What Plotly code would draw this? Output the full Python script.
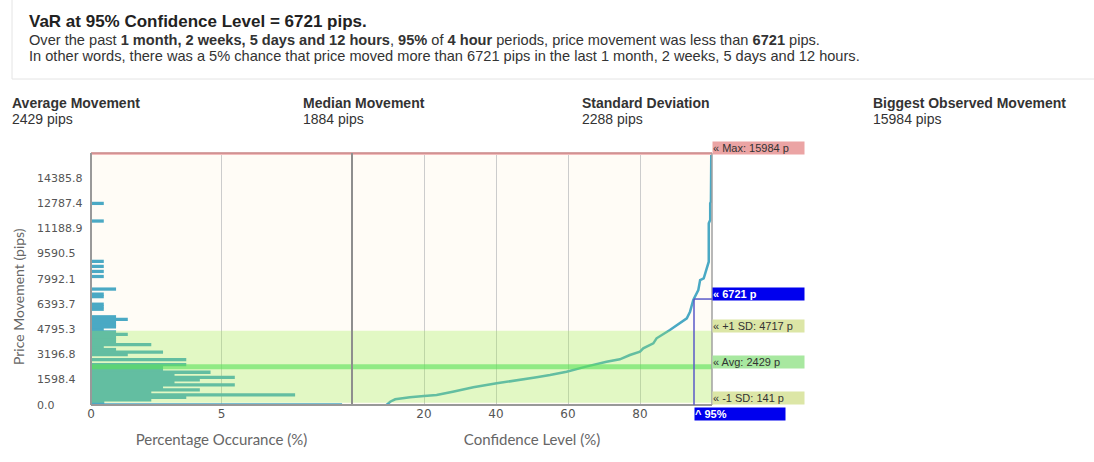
import plotly.graph_objects as go

# ---------------- data ----------------
var_level = 95
var_pips = 6721
avg_pips = 2429
median_pips = 1884
sd_pips = 2288
max_pips = 15984
plus_sd = 4717
minus_sd = 141
y_max = 15984.25

y_tick_vals = [0.0, 1598.4, 3196.8, 4795.3, 6393.7, 7992.1, 9590.5, 11188.9, 12787.4, 14385.8]
y_tick_text = ["0.0", "1598.4", "3196.8", "4795.3", "6393.7", "7992.1", "9590.5", "11188.9", "12787.4", "14385.8"]

# histogram: bin index (bin width = 159.84 pips) and percentage occurrence
BIN = 159.84
hist_bin = [0, 1, 2, 3, 4, 5, 6, 7, 8, 9, 10, 11, 12, 13, 14, 15, 16, 18, 20, 21,
            22, 23, 24, 25, 26, 27, 28, 29, 30, 31, 32, 33, 34, 35, 38, 39, 40, 43,
            44, 46, 51, 53, 55, 57, 73, 80]
hist_pct = [9.62, 0.51, 2.31, 3.65, 7.82, 2.31, 4.17, 2.76, 5.51, 3.2, 4.17, 5.51, 3.2, 4.58, 2.76, 2.76, 3.65, 3.65, 1.41, 2.76,
            0.96, 0.49, 2.31, 0.96, 0.96, 0.96, 1.41, 0.96, 0.49, 0.96, 0.96, 0.96, 1.41, 0.96, 0.49, 0.49, 0.49, 0.49,
            0.49, 0.96, 0.49, 0.49, 0.49, 0.49, 0.49, 0.49]

# cumulative curve: confidence level (%) vs movement (pips)
conf_level = [9.6, 10.6, 12, 14, 16.1, 20, 23.5, 28, 33.7, 40.2, 45, 51.3, 55, 59.6, 65, 70.7, 74.4,
              77.2, 80, 80.9, 83.7, 84.6, 88.3, 93, 93.9, 94.8, 96.2, 96.7, 97.7, 99.1, 99.1, 99.5,
              99.5, 99.7, 99.8, 100]
movement = [0, 209, 360, 440, 488, 571, 634, 845, 1122, 1376, 1522, 1757, 1903, 2113, 2432, 2747, 2899,
            3171, 3381, 3596, 3913, 4231, 4757, 5499, 5918, 6660, 7294, 7928, 8036, 9089, 11524, 11735,
            12792, 12898, 15984, 15984]

stats_labels = ["Average Movement", "Median Movement", "Standard Deviation", "Biggest Observed Movement"]
stats_values = [f"{avg_pips} pips", f"{median_pips} pips", f"{sd_pips} pips", f"{max_pips} pips"]

# ---------------- layout helpers ----------------
W, H = 1094, 462
L, R, T, B = 91, 712, 153, 405
def px2x(px):
    return (px - L) / (R - L)
def py2y(py):
    return (B - py) / (B - T)
split = px2x(352)

BAR_COLOR = "#4aa9c4"
FONT = "Liberation Sans, Arial, sans-serif"
TICKFONT = dict(family="DejaVu Sans, sans-serif", size=11, color="#555")

fig = go.Figure()
fig.add_trace(go.Bar(
    orientation="h",
    x=hist_pct,
    y=[b * BIN for b in hist_bin],
    width=BIN * 1.3,
    marker=dict(color=BAR_COLOR, line=dict(width=0)),
    xaxis="x", yaxis="y", hoverinfo="skip", showlegend=False,
))
fig.add_trace(go.Scatter(
    x=conf_level, y=movement, mode="lines",
    line=dict(color=BAR_COLOR, width=2.5),
    xaxis="x2", yaxis="y", hoverinfo="skip", showlegend=False,
))

axis_common = dict(showline=False, zeroline=False, showgrid=True, gridcolor="#cccccc", gridwidth=1,
                   ticks="", tickfont=dict(family="DejaVu Sans, sans-serif", size=12, color="#555"),
                   fixedrange=True)
title_font = dict(family="Lato, sans-serif", size=15, color="#666")
fig.update_layout(
    width=W, height=H,
    margin=dict(l=L, r=W - R, t=T, b=H - B, autoexpand=False),
    paper_bgcolor="white", plot_bgcolor="#fffcf6",
    showlegend=False,
    xaxis=dict(domain=[0, split], range=[0, 10], tickvals=[0, 5], ticktext=["0", "5"],
               title=dict(text="Percentage Occurance (%)", font=title_font, standoff=14), **axis_common),
    xaxis2=dict(domain=[split, 1], range=[0, 100], tickvals=[20, 40, 60, 80], anchor="y",
                title=dict(text="Confidence Level (%)", font=title_font, standoff=14), **axis_common),
    yaxis=dict(range=[0, y_max], showticklabels=False, showgrid=False, zeroline=False, showline=False,
               fixedrange=True),
)

shapes = []
# header box
shapes.append(dict(type="rect", xref="paper", yref="paper", x0=px2x(12), x1=px2x(1100),
                   y0=py2y(79), y1=py2y(-2), line=dict(color="#e4e4e4", width=1), fillcolor="rgba(0,0,0,0)",
                   layer="below"))
# +/- 1 SD band
shapes.append(dict(type="rect", xref="paper", yref="y", x0=0, x1=1, y0=minus_sd, y1=plus_sd,
                   fillcolor="rgba(160,240,80,0.30)", line=dict(width=0), layer="above"))
# average line
shapes.append(dict(type="line", xref="paper", yref="y", x0=0, x1=1, y0=avg_pips, y1=avg_pips,
                   line=dict(color="rgba(90,225,90,0.6)", width=5), layer="above"))
# max line
shapes.append(dict(type="line", xref="paper", yref="y", x0=0, x1=1, y0=max_pips, y1=max_pips,
                   line=dict(color="#f2bcbc", width=4), layer="above"))
shapes.append(dict(type="line", xref="paper", yref="paper", x0=0, x1=1, y0=1, y1=1,
                   line=dict(color="#c98484", width=1.5), layer="above"))
# frame lines
for x0, c, w in [(0, "#999", 2), (split, "#8e8e8e", 2), (1, "#a0a0a0", 1.5)]:
    shapes.append(dict(type="line", xref="paper", yref="paper", x0=x0, x1=x0, y0=0, y1=1,
                       line=dict(color=c, width=w), layer="above"))
shapes.append(dict(type="line", xref="paper", yref="paper", x0=0, x1=1, y0=0, y1=0,
                   line=dict(color="#999", width=2), layer="above"))
# VaR lines
shapes.append(dict(type="line", xref="x2", yref="y", x0=var_level, x1=var_level, y0=0, y1=var_pips,
                   line=dict(color="#5a5ac8", width=1.5), layer="above"))
shapes.append(dict(type="line", xref="x2", yref="y", x0=var_level, x1=100, y0=var_pips, y1=var_pips,
                   line=dict(color="#5a5ac8", width=1.5), layer="above"))
fig.update_layout(shapes=shapes)

ann = []
# header texts
ann.append(dict(xref="paper", yref="paper", x=px2x(27), y=py2y(21), xanchor="left", yanchor="middle",
                text=f"<b>VaR at {var_level}% Confidence Level = {var_pips} pips.</b>", showarrow=False,
                font=dict(family=FONT, size=17, color="#222")))
ann.append(dict(xref="paper", yref="paper", x=px2x(27), y=py2y(40), xanchor="left", yanchor="middle",
                text=f"Over the past <b>1 month, 2 weeks, 5 days and 12 hours</b>, <b>{var_level}%</b> of "
                     f"<b>4 hour</b> periods, price movement was less than <b>{var_pips}</b> pips.",
                showarrow=False, font=dict(family=FONT, size=14.6, color="#333")))
ann.append(dict(xref="paper", yref="paper", x=px2x(27), y=py2y(56), xanchor="left", yanchor="middle",
                text=f"In other words, there was a 5% chance that price moved more than {var_pips} pips "
                     f"in the last 1 month, 2 weeks, 5 days and 12 hours.",
                showarrow=False, font=dict(family=FONT, size=14.6, color="#333")))
# stats row
for px, lab, val in zip([10, 301, 580, 871], stats_labels, stats_values):
    ann.append(dict(xref="paper", yref="paper", x=px2x(px), y=py2y(103), xanchor="left", yanchor="middle",
                    text=f"<b>{lab}</b>", showarrow=False, font=dict(family=FONT, size=14, color="#333")))
    ann.append(dict(xref="paper", yref="paper", x=px2x(px), y=py2y(119), xanchor="left", yanchor="middle",
                    text=val, showarrow=False, font=dict(family=FONT, size=14, color="#333")))
# y tick labels (left aligned)
for v, t in zip(y_tick_vals, y_tick_text):
    ann.append(dict(xref="paper", yref="y", x=px2x(35), y=v, xanchor="left", yanchor="middle",
                    text=t, showarrow=False, font=TICKFONT))
# y axis title
ann.append(dict(xref="paper", yref="paper", x=px2x(18), y=py2y(297), xanchor="center", yanchor="middle",
                text="Price Movement (pips)", textangle=-90, showarrow=False,
                font=dict(family="Lato, sans-serif", size=14, color="#666")))
# right-side value labels
labels = [
    (max_pips, f"« Max: {max_pips} p", "#eba4a4", "#333", False),
    (var_pips, f"« {var_pips} p", "#0000ee", "white", True),
    (plus_sd, f"« +1 SD: {plus_sd} p", "#dce6a6", "#333", False),
    (avg_pips, f"« Avg: {avg_pips} p", "#a8e8a0", "#333", False),
    (minus_sd, f"« -1 SD: {minus_sd} p", "#dce6a6", "#333", False),
]
for v, t, bg, fc, bold in labels:
    ann.append(dict(xref="x2", yref="y", x=100, y=v, xanchor="left", yanchor="bottom", yshift=-2,
                    text=f"<b>{t}</b>" if bold else t, showarrow=False, width=91, height=12,
                    align="left", valign="middle", bgcolor=bg, borderpad=0,
                    font=dict(family=FONT, size=11, color=fc)))
ann.append(dict(xref="x2", yref="paper", x=var_level, y=0, xanchor="left", yanchor="top", yshift=-2,
                text=f"<b>^ {var_level}%</b>", showarrow=False, width=90, height=12,
                align="left", valign="middle", bgcolor="#0000ee", borderpad=0,
                font=dict(family=FONT, size=11, color="white")))
fig.update_layout(annotations=ann)

fig.write_html("out.html", config={"displayModeBar": False},
               post_script="document.body.style.margin='0';")
